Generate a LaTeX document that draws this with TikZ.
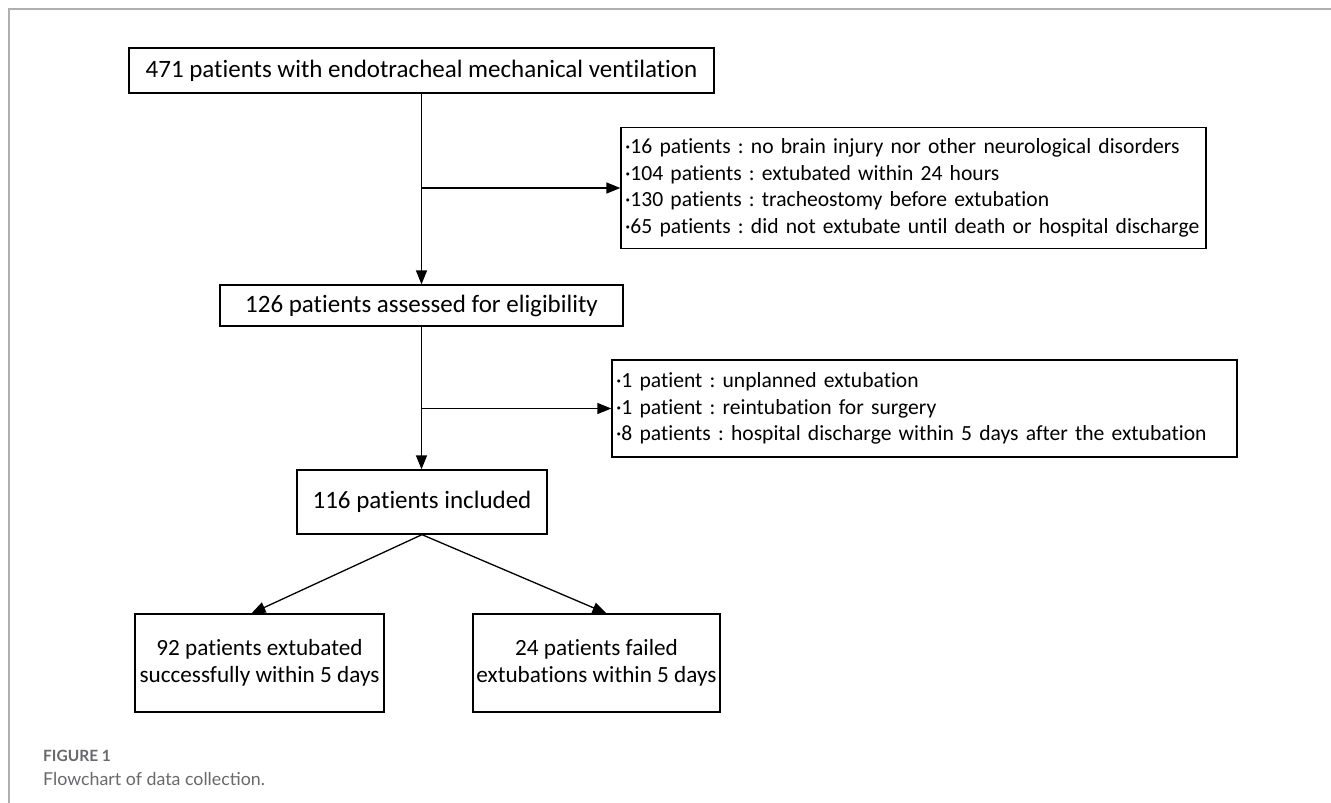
\documentclass[tikz,border=0pt]{standalone}
\usepackage{fontspec}
\setmainfont[Ligatures={NoCommon}]{Carlito}
\newfontfamily\capfont{Lato}
\usetikzlibrary{arrows.meta}
\definecolor{framegray}{RGB}{175,175,175}
\definecolor{capgray}{RGB}{105,105,108}
\frenchspacing
\hyphenpenalty=10000
\exhyphenpenalty=10000
\newcommand\lineitem[1]{\makebox[0pt][l]{#1}}
\begin{document}
\begin{tikzpicture}[x=1pt,y=-1pt,
  box/.style={draw=black, line width=1.3pt, inner sep=0pt, align=center,
    font=\fontsize{25}{28}\selectfont},
  twobox/.style={box, font=\fontsize{23.2}{27.5}\selectfont},
  listbox/.style={draw=black, line width=1.3pt, inner xsep=4pt, inner ysep=0pt,
    align=left, font=\fontsize{21.6}{26.6}\selectfont},
  arr/.style={line width=1.3pt, -{Triangle[length=14pt,width=11pt]}}]
\useasboundingbox (0,0) rectangle (1331,803);
\fill[white] (0,0) rectangle (1331,803);
\draw[framegray, line width=2pt] (1331,9) -- (9,9) -- (9,803);

\node[box, minimum width=585pt, minimum height=45pt] (a) at (421.5,70.5)
  {471 patients with endotracheal mechanical ventilation};
\node[listbox, text width=577pt, minimum height=121pt] (ex1) at (913.5,188)
  {\lineitem{·16 patients : no brain injury nor other neurological disorders}\\
   \lineitem{·104 patients : extubated within 24 hours}\\
   \lineitem{·130 patients : tracheostomy before extubation}\\
   \lineitem{·65 patients : did not extubate until death or hospital discharge}};
\node[box, minimum width=403pt, minimum height=41pt] (b) at (421.5,305.5)
  {126 patients assessed for eligibility};
\node[listbox, text width=617pt, minimum height=97pt] (ex2) at (924.5,408.5)
  {\lineitem{·1 patient : unplanned extubation}\\
   \lineitem{·1 patient : reintubation for surgery}\\
   \lineitem{·8 patients : hospital discharge within 5 days after the extubation}};
\node[box, minimum width=250pt, minimum height=64pt] (c) at (422,502)
  {116 patients included};
\node[twobox, minimum width=249pt, minimum height=98pt] (d) at (259.5,663)
  {92 patients extubated\\successfully within 5 days};
\node[twobox, minimum width=247pt, minimum height=98pt] (e) at (596.5,663)
  {24 patients failed\\extubations within 5 days};

\draw[arr] (a.south) -- (a.south |- b.north);
\draw[arr] (a.south |- ex1.west) -- (ex1.west);
\draw[arr] (b.south) -- (b.south |- c.north);
\draw[arr] (b.south |- ex2.west) -- (ex2.west);
\draw[arr] (c.south) -- ([xshift=-8pt]d.north);
\draw[arr] (c.south) -- ([xshift=10pt]e.north);

\node[anchor=west, inner sep=0pt, text=capgray, font=\capfont\bfseries\fontsize{15.5}{18}\selectfont] (f1) at (43,756) {FIGURE 1};
\node[anchor=west, inner sep=0pt, text=capgray, font=\capfont\fontsize{17.8}{21}\selectfont] (f2) at (43,779) {Flowchart of data collection.};
\end{tikzpicture}
\end{document}
